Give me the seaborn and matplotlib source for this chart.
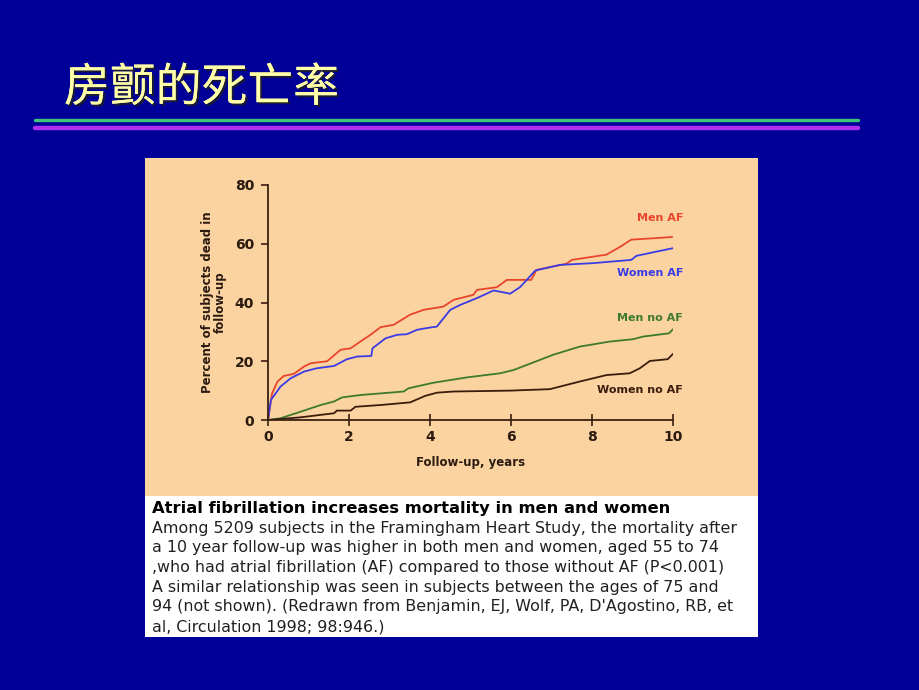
import matplotlib
matplotlib.use("Agg")
import matplotlib.pyplot as plt
import matplotlib.patches as mpatches
import matplotlib.patheffects as pe
import numpy as np
import pandas as pd
import seaborn as sns

# ---------------- data ----------------
men_af_x = [0, 0.1, 0.23, 0.39, 0.64, 0.89, 1.05, 1.46, 1.79, 2.04, 2.28, 2.53, 2.78, 3.1, 3.5,
            3.84, 4.33, 4.58, 5.07, 5.16, 5.65, 5.9, 6.5, 6.63, 7.37, 7.5, 8.36, 8.7, 8.97, 9.67, 9.98]
men_af_y = [0, 9, 13, 15, 15.7, 18.2, 19.3, 20, 23.9, 24.4, 26.7, 29, 31.6, 32.4, 35.8,
            37.5, 38.6, 40.9, 42.6, 44.3, 45.2, 47.7, 47.7, 51.1, 53.2, 54.5, 56.3, 59, 61.4, 62, 62.3]

women_af_x = [0, 0.07, 0.31, 0.56, 0.89, 1.2, 1.63, 1.95, 2.2, 2.55, 2.58, 2.9, 3.19, 3.43, 3.68,
              3.92, 4.17, 4.5, 4.75, 5.16, 5.57, 5.98, 6.22, 6.39, 6.6, 7.21, 8.03, 8.97, 9.1, 10.0]
women_af_y = [0, 6.8, 11.4, 14.2, 16.5, 17.6, 18.4, 20.7, 21.6, 21.8, 24.4, 27.8, 29, 29.2, 30.7,
              31.3, 31.8, 37.5, 39.2, 41.5, 44.1, 43, 45.2, 47.7, 50.9, 52.8, 53.4, 54.5, 55.9, 58.5]

men_noaf_x = [0, 0.31, 0.8, 1.3, 1.63, 1.83, 2.28, 3.35, 3.47, 4.09, 4.91, 5.73, 6.06, 7.04,
              7.7, 8.44, 9.01, 9.26, 9.9, 10.0]
men_noaf_y = [0, 0.6, 2.8, 5.1, 6.3, 7.7, 8.5, 9.7, 10.8, 12.7, 14.5, 15.9, 17, 22.2,
              25, 26.7, 27.5, 28.4, 29.5, 30.9]

women_noaf_x = [0, 0.8, 1.63, 1.7, 2.04, 2.16, 2.78, 3.51, 3.88, 4.17, 4.58, 5.98, 6.96, 7.7,
                8.36, 8.93, 9.18, 9.43, 9.87, 10.0]
women_noaf_y = [0, 0.9, 2.3, 3.2, 3.2, 4.5, 5.1, 6, 8.2, 9.3, 9.7, 10, 10.5, 13.1,
                15.3, 15.9, 17.6, 20.1, 20.7, 22.5]

series_names = ["Men AF", "Women AF", "Men no AF", "Women no AF"]
series_colors = ["#e8452c", "#3b3be6", "#3d7a2e", "#3a1c0c"]
x_ticks = [0, 2, 4, 6, 8, 10]
y_ticks = [0, 20, 40, 60, 80]

title_text = "房颤的死亡率"
caption_head = "Atrial fibrillation increases mortality in men and women"
caption_lines = [
    "Among 5209 subjects in the Framingham Heart Study, the mortality after",
    "a 10 year follow-up was higher in both men and women, aged 55 to 74",
    ",who had atrial fibrillation (AF) compared to those without AF (P<0.001)",
    "A similar relationship was seen in subjects between the ages of 75 and",
    "94 (not shown). (Redrawn from Benjamin, EJ, Wolf, PA, D'Agostino, RB, et",
    "al, Circulation 1998; 98:946.)",
]

frames = []
for name, xs, ys in zip(series_names,
                        [men_af_x, women_af_x, men_noaf_x, women_noaf_x],
                        [men_af_y, women_af_y, men_noaf_y, women_noaf_y]):
    frames.append(pd.DataFrame({"years": xs, "pct": ys, "group": name}))
df = pd.concat(frames, ignore_index=True)

# ---------------- figure ----------------
sns.set_theme(style="white")
plt.rcParams["font.family"] = ["DejaVu Sans"]

W, H = 920, 690
fig = plt.figure(figsize=(W / 100, H / 100), dpi=100, facecolor="#000099")

def fx(px):
    return px / W

def fy(py):
    return 1 - py / H

# title with a soft shadow
fig.text(fx(64), fy(88), title_text, family=["Noto Sans CJK SC", "DejaVu Sans"],
         fontsize=33, color="#ffffa8", va="center", ha="left",
         path_effects=[pe.withSimplePatchShadow(offset=(1.5, -1.5), shadow_rgbFace="#202020",
                                                alpha=0.8), pe.Normal()])

# rule lines
fig.add_artist(plt.Line2D([fx(35), fx(858)], [fy(120), fy(120)], color="#3cc878", lw=2.4))
fig.add_artist(plt.Line2D([fx(35), fx(858)], [fy(127.5), fy(127.5)], color="#b030f0", lw=3.2))

# panels
fig.patches.append(mpatches.Rectangle((fx(145), fy(496)), fx(758 - 145), (496 - 158) / H,
                                      transform=fig.transFigure, facecolor="#fbd3a0",
                                      edgecolor="none", zorder=0))
fig.patches.append(mpatches.Rectangle((fx(145), fy(637)), fx(758 - 145), (637 - 496) / H,
                                      transform=fig.transFigure, facecolor="white",
                                      edgecolor="none", zorder=0))

# axes
ax = fig.add_axes([fx(268), fy(420), fx(673 - 268), (420 - 185) / H])
ax.set_zorder(3)
ax.set_facecolor("none")
sns.lineplot(data=df, x="years", y="pct", hue="group", hue_order=series_names,
             palette=series_colors, sort=False, estimator=None, lw=1.3, legend=False, ax=ax)
ax.set_xlim(0, 10)
ax.set_ylim(0, 80)
ax.set_xticks(x_ticks)
ax.set_yticks(y_ticks)
ax.set_xticklabels([str(t) for t in x_ticks], fontweight="bold", fontsize=10, color="#2a1a10")
ax.set_yticklabels([str(t) for t in y_ticks], fontweight="bold", fontsize=10, color="#2a1a10")
for s in ["top", "right"]:
    ax.spines[s].set_visible(False)
for s in ["left", "bottom"]:
    ax.spines[s].set_color("#3a2010")
    ax.spines[s].set_linewidth(1.3)
ax.tick_params(axis="y", direction="out", length=5, width=1.2, color="#3a2010", pad=5, left=True)
ax.tick_params(axis="x", direction="inout", length=8, width=1.2, color="#3a2010", pad=3, bottom=True)
ax.set_xlabel("Follow-up, years", fontweight="bold", fontsize=8.5, color="#2a1a10", labelpad=9)
ax.set_ylabel("Percent of subjects dead in\nfollow-up", fontweight="bold", fontsize=8.5,
              color="#2a1a10", labelpad=6, linespacing=0.9)

# series labels
label_pos = [(68.8, series_colors[0]), (50.0, series_colors[1]),
             (34.8, series_colors[2]), (10.3, series_colors[3])]
for name, (yy, c) in zip(series_names, label_pos):
    ax.text(10.25, yy, name, color=c, fontweight="bold", fontsize=8, ha="right",
            va="center", clip_on=False)

# caption
fig.text(fx(152), fy(508), caption_head, fontweight="bold", fontsize=11.8, color="black",
         ha="left", va="center")
for i, line in enumerate(caption_lines):
    fig.text(fx(152), fy(528 + i * 19.7), line, fontsize=11.4, color="#202020",
             ha="left", va="center")

fig.savefig("out.png", dpi=100, facecolor=fig.get_facecolor())
